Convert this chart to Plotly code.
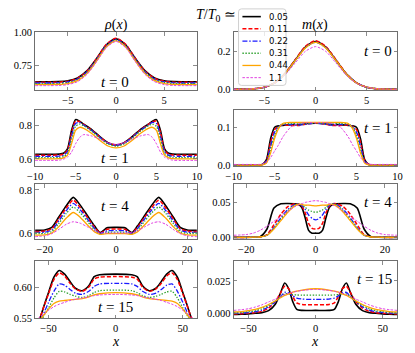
import plotly.graph_objects as go

# ---------------- data ----------------
TEMPS = ["0.05", "0.11", "0.22", "0.31", "0.44", "1.1"]

# rho(x), t = 0
X_RHO_T0 = [-8.4, -7, -6, -5, -4, -3, -2, -1, 0, 1, 2, 3, 4, 5, 6, 7, 8.4]
RHO_T0 = [
    [0.625, 0.625, 0.626, 0.632, 0.654, 0.709, 0.802, 0.905, 0.950, 0.905, 0.802, 0.709, 0.654, 0.632, 0.626, 0.625, 0.625],
    [0.620, 0.620, 0.621, 0.628, 0.650, 0.706, 0.803, 0.908, 0.955, 0.908, 0.803, 0.706, 0.650, 0.628, 0.621, 0.620, 0.620],
    [0.615, 0.615, 0.616, 0.623, 0.644, 0.700, 0.795, 0.899, 0.945, 0.899, 0.795, 0.700, 0.644, 0.623, 0.616, 0.615, 0.615],
    [0.610, 0.610, 0.611, 0.618, 0.639, 0.695, 0.790, 0.894, 0.940, 0.894, 0.790, 0.695, 0.639, 0.618, 0.611, 0.610, 0.610],
    [0.603, 0.603, 0.604, 0.611, 0.633, 0.688, 0.784, 0.889, 0.935, 0.889, 0.784, 0.688, 0.633, 0.611, 0.604, 0.603, 0.603],
    [0.595, 0.595, 0.596, 0.603, 0.625, 0.681, 0.778, 0.883, 0.930, 0.883, 0.778, 0.681, 0.625, 0.603, 0.596, 0.595, 0.595],
]

# m(x), t = 0
X_M_T0 = [-8, -7, -6, -5, -4, -3, -2, -1, 0, 1, 2, 3, 4, 5, 6, 7, 8]
M_T0 = [
    [0.0, 0.001, 0.003, 0.011, 0.034, 0.081, 0.152, 0.221, 0.250, 0.221, 0.152, 0.081, 0.034, 0.011, 0.003, 0.001, 0.0],
    [0.0, 0.001, 0.003, 0.011, 0.034, 0.083, 0.155, 0.225, 0.255, 0.225, 0.155, 0.083, 0.034, 0.011, 0.003, 0.001, 0.0],
    [0.0, 0.001, 0.003, 0.011, 0.034, 0.081, 0.151, 0.219, 0.248, 0.219, 0.151, 0.081, 0.034, 0.011, 0.003, 0.001, 0.0],
    [0.0, 0.001, 0.003, 0.011, 0.033, 0.080, 0.150, 0.218, 0.247, 0.218, 0.150, 0.080, 0.033, 0.011, 0.003, 0.001, 0.0],
    [0.0, 0.001, 0.003, 0.011, 0.033, 0.080, 0.150, 0.217, 0.246, 0.217, 0.150, 0.080, 0.033, 0.011, 0.003, 0.001, 0.0],
    [0.0, 0.001, 0.003, 0.011, 0.032, 0.075, 0.138, 0.199, 0.224, 0.199, 0.138, 0.075, 0.032, 0.011, 0.003, 0.001, 0.0],
]

# rho(x), t = 1
X_T1 = [-10, -8, -7, -6.5, -6, -5.5, -5, -4.5, -4, -3, -2, -1, 0, 1, 2, 3, 4, 4.5, 5, 5.5, 6, 6.5, 7, 8, 10]
RHO_T1 = [
    [0.627, 0.627, 0.628, 0.633, 0.660, 0.770, 0.835, 0.825, 0.808, 0.775, 0.733, 0.697, 0.683, 0.697, 0.733, 0.775, 0.808, 0.825, 0.835, 0.770, 0.660, 0.633, 0.628, 0.627, 0.627],
    [0.622, 0.622, 0.623, 0.628, 0.652, 0.755, 0.826, 0.822, 0.806, 0.772, 0.731, 0.696, 0.682, 0.696, 0.731, 0.772, 0.806, 0.822, 0.826, 0.755, 0.652, 0.628, 0.623, 0.622, 0.622],
    [0.615, 0.615, 0.616, 0.621, 0.643, 0.735, 0.812, 0.818, 0.803, 0.770, 0.729, 0.694, 0.680, 0.694, 0.729, 0.770, 0.803, 0.818, 0.812, 0.735, 0.643, 0.621, 0.616, 0.615, 0.615],
    [0.607, 0.607, 0.608, 0.613, 0.633, 0.715, 0.795, 0.808, 0.798, 0.765, 0.724, 0.689, 0.675, 0.689, 0.724, 0.765, 0.798, 0.808, 0.795, 0.715, 0.633, 0.613, 0.608, 0.607, 0.607],
    [0.600, 0.600, 0.601, 0.606, 0.622, 0.690, 0.770, 0.789, 0.783, 0.752, 0.711, 0.677, 0.665, 0.677, 0.711, 0.752, 0.783, 0.789, 0.770, 0.690, 0.622, 0.606, 0.601, 0.600, 0.600],
    [0.590, 0.590, 0.592, 0.598, 0.610, 0.640, 0.690, 0.728, 0.745, 0.737, 0.718, 0.697, 0.687, 0.697, 0.718, 0.737, 0.745, 0.728, 0.690, 0.640, 0.610, 0.598, 0.592, 0.590, 0.590],
]

# m(x), t = 1
M_T1 = [
    [0.0, 0.0, 0.0005, 0.002, 0.015, 0.070, 0.101, 0.105, 0.106, 0.108, 0.108, 0.111, 0.112, 0.111, 0.108, 0.108, 0.106, 0.105, 0.101, 0.070, 0.015, 0.002, 0.0005, 0.0, 0.0],
    [0.0, 0.0, 0.0005, 0.002, 0.012, 0.060, 0.095, 0.104, 0.107, 0.106, 0.106, 0.110, 0.112, 0.110, 0.106, 0.106, 0.107, 0.104, 0.095, 0.060, 0.012, 0.002, 0.0005, 0.0, 0.0],
    [0.0, 0.0, 0.0005, 0.002, 0.010, 0.050, 0.088, 0.103, 0.108, 0.108, 0.107, 0.110, 0.112, 0.110, 0.107, 0.108, 0.108, 0.103, 0.088, 0.050, 0.010, 0.002, 0.0005, 0.0, 0.0],
    [0.0, 0.0, 0.0005, 0.001, 0.008, 0.040, 0.080, 0.102, 0.110, 0.111, 0.110, 0.111, 0.112, 0.111, 0.110, 0.111, 0.110, 0.102, 0.080, 0.040, 0.008, 0.001, 0.0005, 0.0, 0.0],
    [0.0, 0.0, 0.0005, 0.001, 0.006, 0.032, 0.072, 0.098, 0.111, 0.114, 0.114, 0.114, 0.114, 0.114, 0.114, 0.114, 0.111, 0.098, 0.072, 0.032, 0.006, 0.001, 0.0005, 0.0, 0.0],
    [0.002, 0.002, 0.002, 0.003, 0.008, 0.020, 0.038, 0.055, 0.075, 0.102, 0.111, 0.113, 0.113, 0.113, 0.111, 0.102, 0.075, 0.055, 0.038, 0.020, 0.008, 0.003, 0.002, 0.002, 0.002],
]

# rho(x), t = 4
X_RHO_T4 = [-22.7, -20, -18, -16, -14, -12, -10, -8, -6, -4.5, -3.5, -2.5, 0, 2.5, 3.5, 4.5, 6, 8, 10, 12, 14, 16, 18, 20, 22.7]
RHO_T4 = [
    [0.612, 0.614, 0.626, 0.675, 0.725, 0.765, 0.728, 0.680, 0.632, 0.602, 0.612, 0.624, 0.626, 0.624, 0.612, 0.602, 0.632, 0.680, 0.728, 0.765, 0.725, 0.675, 0.626, 0.614, 0.612],
    [0.607, 0.609, 0.620, 0.667, 0.715, 0.752, 0.717, 0.672, 0.626, 0.600, 0.607, 0.617, 0.618, 0.617, 0.607, 0.600, 0.626, 0.672, 0.717, 0.752, 0.715, 0.667, 0.620, 0.609, 0.607],
    [0.603, 0.604, 0.614, 0.657, 0.703, 0.737, 0.706, 0.664, 0.620, 0.598, 0.603, 0.610, 0.611, 0.610, 0.603, 0.598, 0.620, 0.664, 0.706, 0.737, 0.703, 0.657, 0.614, 0.604, 0.603],
    [0.597, 0.598, 0.607, 0.645, 0.690, 0.720, 0.693, 0.654, 0.613, 0.596, 0.598, 0.603, 0.604, 0.603, 0.598, 0.596, 0.613, 0.654, 0.693, 0.720, 0.690, 0.645, 0.607, 0.598, 0.597],
    [0.590, 0.591, 0.600, 0.630, 0.668, 0.695, 0.672, 0.637, 0.605, 0.594, 0.595, 0.597, 0.597, 0.597, 0.595, 0.594, 0.605, 0.637, 0.672, 0.695, 0.668, 0.630, 0.600, 0.591, 0.590],
    [0.583, 0.587, 0.597, 0.617, 0.640, 0.652, 0.645, 0.628, 0.610, 0.601, 0.600, 0.600, 0.600, 0.600, 0.600, 0.601, 0.610, 0.628, 0.645, 0.652, 0.640, 0.617, 0.597, 0.587, 0.583],
]

# m(x), t = 4
X_M_T4 = [-23.6, -20, -18, -16, -14, -12, -10, -8, -6, -5, -4, -3, -2, -1, 0, 1, 2, 3, 4, 5, 6, 8, 10, 12, 14, 16, 18, 20, 23.6]
M_T4 = [
    [0.0, 0.0, 0.0002, 0.001, 0.012, 0.042, 0.048, 0.0485, 0.048, 0.047, 0.043, 0.028, 0.010, 0.006, 0.006, 0.006, 0.010, 0.028, 0.043, 0.047, 0.048, 0.0485, 0.048, 0.042, 0.012, 0.001, 0.0002, 0.0, 0.0],
    [0.0, 0.0, 0.0002, 0.0005, 0.004, 0.018, 0.033, 0.044, 0.048, 0.048, 0.045, 0.035, 0.020, 0.013, 0.012, 0.013, 0.020, 0.035, 0.045, 0.048, 0.048, 0.044, 0.033, 0.018, 0.004, 0.0005, 0.0002, 0.0, 0.0],
    [0.0, 0.0, 0.0002, 0.0005, 0.003, 0.014, 0.028, 0.040, 0.047, 0.048, 0.046, 0.040, 0.032, 0.027, 0.025, 0.027, 0.032, 0.040, 0.046, 0.048, 0.047, 0.040, 0.028, 0.014, 0.003, 0.0005, 0.0002, 0.0, 0.0],
    [0.0, 0.0, 0.0002, 0.0005, 0.003, 0.013, 0.026, 0.038, 0.046, 0.048, 0.047, 0.043, 0.039, 0.037, 0.036, 0.037, 0.039, 0.043, 0.047, 0.048, 0.046, 0.038, 0.026, 0.013, 0.003, 0.0005, 0.0002, 0.0, 0.0],
    [0.0, 0.0, 0.0002, 0.0005, 0.003, 0.012, 0.024, 0.036, 0.045, 0.047, 0.047, 0.046, 0.046, 0.0455, 0.045, 0.0455, 0.046, 0.046, 0.047, 0.047, 0.045, 0.036, 0.024, 0.012, 0.003, 0.0005, 0.0002, 0.0, 0.0],
    [0.003, 0.004, 0.006, 0.010, 0.016, 0.023, 0.030, 0.037, 0.044, 0.046, 0.048, 0.050, 0.051, 0.052, 0.0525, 0.052, 0.051, 0.050, 0.048, 0.046, 0.044, 0.037, 0.030, 0.023, 0.016, 0.010, 0.006, 0.004, 0.003],
]

# rho(x), t = 15
X_RHO_T15 = [-60, -56.5, -53, -50, -46, -42, -38, -34, -30, -25, -20, -16, -12, 0, 12, 16, 20, 25, 30, 34, 38, 42, 46, 50, 53, 56.5, 60]
RHO_T15 = [
    [0.535, 0.550, 0.573, 0.592, 0.617, 0.628, 0.622, 0.610, 0.599, 0.595, 0.603, 0.618, 0.621, 0.622, 0.621, 0.618, 0.603, 0.595, 0.599, 0.610, 0.622, 0.628, 0.617, 0.592, 0.573, 0.550, 0.535],
    [0.537, 0.551, 0.572, 0.590, 0.613, 0.624, 0.619, 0.607, 0.598, 0.594, 0.601, 0.614, 0.617, 0.618, 0.617, 0.614, 0.601, 0.594, 0.598, 0.607, 0.619, 0.624, 0.613, 0.590, 0.572, 0.551, 0.537],
    [0.535, 0.545, 0.561, 0.576, 0.594, 0.606, 0.604, 0.597, 0.591, 0.589, 0.594, 0.602, 0.606, 0.607, 0.606, 0.602, 0.594, 0.589, 0.591, 0.597, 0.604, 0.606, 0.594, 0.576, 0.561, 0.545, 0.535],
    [0.530, 0.541, 0.556, 0.567, 0.583, 0.594, 0.593, 0.589, 0.586, 0.584, 0.587, 0.592, 0.595, 0.596, 0.595, 0.592, 0.587, 0.584, 0.586, 0.589, 0.593, 0.594, 0.583, 0.567, 0.556, 0.541, 0.530],
    [0.538, 0.547, 0.557, 0.565, 0.574, 0.578, 0.579, 0.580, 0.581, 0.582, 0.585, 0.588, 0.590, 0.592, 0.590, 0.588, 0.585, 0.582, 0.581, 0.580, 0.579, 0.578, 0.574, 0.565, 0.557, 0.547, 0.538],
    [0.545, 0.552, 0.558, 0.563, 0.569, 0.573, 0.576, 0.579, 0.581, 0.583, 0.585, 0.587, 0.588, 0.589, 0.588, 0.587, 0.585, 0.583, 0.581, 0.579, 0.576, 0.573, 0.569, 0.563, 0.558, 0.552, 0.545],
]

# m(x), t = 15
X_M_T15 = [-61, -55, -50, -45, -40, -35, -30, -26, -23, -20, -17, -14, -10, 0, 10, 14, 17, 20, 23, 26, 30, 35, 40, 45, 50, 55, 61]
M_T15 = [
    [-0.001, -0.0008, -0.0005, 0.0, 0.0005, 0.002, 0.007, 0.016, 0.0235, 0.019, 0.009, 0.003, 0.0022, 0.0022, 0.0022, 0.003, 0.009, 0.019, 0.0235, 0.016, 0.007, 0.002, 0.0005, 0.0, -0.0005, -0.0008, -0.001],
    [-0.0005, -0.0003, 0.0, 0.0005, 0.0015, 0.004, 0.009, 0.016, 0.021, 0.019, 0.013, 0.008, 0.0068, 0.0065, 0.0068, 0.008, 0.013, 0.019, 0.021, 0.016, 0.009, 0.004, 0.0015, 0.0005, 0.0, -0.0003, -0.0005],
    [0.0, 0.0002, 0.0006, 0.0012, 0.0025, 0.005, 0.009, 0.013, 0.0162, 0.0158, 0.0135, 0.0118, 0.011, 0.0107, 0.011, 0.0118, 0.0135, 0.0158, 0.0162, 0.013, 0.009, 0.005, 0.0025, 0.0012, 0.0006, 0.0002, 0.0],
    [0.0005, 0.0007, 0.0012, 0.002, 0.0035, 0.006, 0.0095, 0.013, 0.015, 0.0152, 0.0145, 0.0142, 0.014, 0.014, 0.014, 0.0142, 0.0145, 0.0152, 0.015, 0.013, 0.0095, 0.006, 0.0035, 0.002, 0.0012, 0.0007, 0.0005],
    [0.001, 0.0013, 0.002, 0.003, 0.0045, 0.0068, 0.0095, 0.012, 0.0138, 0.015, 0.0163, 0.0172, 0.018, 0.019, 0.018, 0.0172, 0.0163, 0.015, 0.0138, 0.012, 0.0095, 0.0068, 0.0045, 0.003, 0.002, 0.0013, 0.001],
    [0.0022, 0.0028, 0.0035, 0.0048, 0.0065, 0.0088, 0.011, 0.0132, 0.0145, 0.0155, 0.0163, 0.017, 0.0177, 0.0185, 0.0177, 0.017, 0.0163, 0.0155, 0.0145, 0.0132, 0.011, 0.0088, 0.0065, 0.0048, 0.0035, 0.0028, 0.0022],
]

# ---------------- styles ----------------
COLORS = ["#000000", "#ff0000", "#1a1aff", "#2ca02c", "#ffa500", "#e040e0"]
DASHES = ["solid", "4px,2px", "5px,1.8px,1.5px,1.8px", "1.4px,1.6px", "solid", "2.5px,1.5px"]
WIDTHS = [1.6, 1.5, 1.3, 1.3, 1.3, 1.0]

W, H = 415, 353
SERIF = "Liberation Serif"
AXC = "#6f6f6f"


def fx(p):
    return p / W


def fy(p):
    return 1 - p / H


COLS = [(28, 195), (233, 402)]
ROWS = [(28, 88), (108, 166.5), (185, 242), (264.5, 323.5)]

panels = [
    # (x, ys, xrange, yrange, xticks, yticks, yfmt, label, col, row)
    (X_RHO_T0, RHO_T0, [-8.4, 8.4], [0.56, 1.0008], [-5, 0, 5], [0.75, 1.0], ".2f", "0", 0, 0),
    (X_M_T0, M_T0, [-8, 8], [-0.005, 0.30], [-5, 0, 5], [0.0, 0.2], ".1f", "0", 1, 0),
    (X_T1, RHO_T1, [-10, 10], [0.555, 0.895], [-10, -5, 0, 5, 10], [0.6, 0.8], ".1f", "1", 0, 1),
    (X_T1, M_T1, [-10, 10], [-0.003, 0.148], [-10, -5, 0, 5, 10], [0.0, 0.1], ".1f", "1", 1, 1),
    (X_RHO_T4, RHO_T4, [-22.7, 22.7], [0.57, 0.826], [-20, 0, 20], [0.6, 0.8], ".1f", "4", 0, 2),
    (X_M_T4, M_T4, [-23.6, 23.6], [-0.003, 0.076], [-20, 0, 20], [0.0, 0.05], ".2f", "4", 1, 2),
    (X_RHO_T15, RHO_T15, [-60, 60.5], [0.5498, 0.643], [-50, 0, 50], [0.55, 0.60], ".2f", "15", 0, 3),
    (X_M_T15, M_T15, [-61, 61], [-0.004, 0.0403], [-50, 0, 50], [0.0, 0.025], ".3f", "15", 1, 3),
]

fig = go.Figure()
layout = dict(
    width=W, height=H, margin=dict(l=0, r=0, t=0, b=0),
    paper_bgcolor="white", plot_bgcolor="white", showlegend=False,
    font=dict(family=SERIF, size=11, color="black"),
)
annotations = []
shapes = []

for i, (xs, ys, xr, yr, xt, yt, yfmt, lab, col, row) in enumerate(panels):
    n = i + 1
    xa = "x" if n == 1 else f"x{n}"
    ya = "y" if n == 1 else f"y{n}"
    for k in range(6):
        fig.add_trace(go.Scatter(
            x=xs, y=ys[k], xaxis=xa, yaxis=ya, mode="lines",
            line=dict(color=COLORS[k], width=WIDTHS[k], dash=DASHES[k],
                      shape="spline", smoothing=0.7),
            name=TEMPS[k], hoverinfo="skip",
        ))
    c0, c1 = COLS[col]
    r0, r1 = ROWS[row]
    common = dict(showline=True, linecolor=AXC, linewidth=1, mirror="ticks",
                  ticks="inside", ticklen=3.5, tickcolor=AXC, tickwidth=0.8,
                  showgrid=False, zeroline=False,
                  tickfont=dict(family=SERIF, size=10.5, color="black"))
    layout["xaxis" if n == 1 else f"xaxis{n}"] = dict(
        domain=[fx(c0), fx(c1)], range=xr, anchor=ya,
        tickmode="array", tickvals=xt, **common)
    layout["yaxis" if n == 1 else f"yaxis{n}"] = dict(
        domain=[fy(r1), fy(r0)], range=yr, anchor=xa,
        tickmode="array", tickvals=yt, tickformat=yfmt, **common)
    # t = ... labels
    if col == 0:
        ax_, anc = (c0 + c1) / 2 - 1, "center"
        ay_ = {0: 79, 1: 158, 2: 207, 3: 312}[row]
    else:
        ax_, anc = 398, "right"
        ay_ = {0: 47, 1: 127, 2: 203, 3: 283}[row]
    annotations.append(dict(
        x=fx(ax_), y=fy(ay_), xref="paper", yref="paper", xanchor=anc, yanchor="middle",
        text=f"<i>t</i> = {lab}", showarrow=False, font=dict(family=SERIF, size=15, color="black")))

# column titles and global labels
annotations += [
    dict(x=fx(111), y=fy(21), xref="paper", yref="paper", text="<i>ρ</i>(<i>x</i>)",
         showarrow=False, font=dict(family=SERIF, size=14), xanchor="center", yanchor="middle"),
    dict(x=fx(317), y=fy(21), xref="paper", yref="paper", text="<i>m</i>(<i>x</i>)",
         showarrow=False, font=dict(family=SERIF, size=14), xanchor="center", yanchor="middle"),
    dict(x=fx(237), y=fy(11), xref="paper", yref="paper", text="<i>T</i>/<i>T</i><sub>0</sub> ≃",
         showarrow=False, font=dict(family=SERIF, size=14), xanchor="right", yanchor="middle"),
    dict(x=fx(111), y=fy(347), xref="paper", yref="paper", text="<i>x</i>",
         showarrow=False, font=dict(family=SERIF, size=14), xanchor="center", yanchor="middle"),
    dict(x=fx(317), y=fy(347), xref="paper", yref="paper", text="<i>x</i>",
         showarrow=False, font=dict(family=SERIF, size=14), xanchor="center", yanchor="middle"),
]

# legend box (matplotlib-like, semi-transparent)
bx0, by0, bx1, by1, rr = 238, 4, 287, 83, 3
path = (f"M {fx(bx0+rr)},{fy(by0)} L {fx(bx1-rr)},{fy(by0)} Q {fx(bx1)},{fy(by0)} {fx(bx1)},{fy(by0+rr)} "
        f"L {fx(bx1)},{fy(by1-rr)} Q {fx(bx1)},{fy(by1)} {fx(bx1-rr)},{fy(by1)} "
        f"L {fx(bx0+rr)},{fy(by1)} Q {fx(bx0)},{fy(by1)} {fx(bx0)},{fy(by1-rr)} "
        f"L {fx(bx0)},{fy(by0+rr)} Q {fx(bx0)},{fy(by0)} {fx(bx0+rr)},{fy(by0)} Z")
shapes.append(dict(type="path", path=path, xref="paper", yref="paper", layer="above",
                   fillcolor="rgba(255,255,255,0.8)", line=dict(color="#d0d0d0", width=1)))
for k in range(6):
    yy = 12 + k * 12.6
    shapes.append(dict(type="line", xref="paper", yref="paper", layer="above",
                       x0=fx(242), x1=fx(261), y0=fy(yy), y1=fy(yy),
                       line=dict(color=COLORS[k], width=WIDTHS[k], dash=DASHES[k])))
    annotations.append(dict(x=fx(267), y=fy(yy), xref="paper", yref="paper", text=TEMPS[k],
                            showarrow=False, xanchor="left", yanchor="middle",
                            font=dict(family="DejaVu Sans", size=8.5, color="black")))

layout["annotations"] = annotations
layout["shapes"] = shapes
fig.update_layout(**layout)
fig.write_html(
    "out.html",
    config={"displayModeBar": False, "staticPlot": True},
    post_script="document.body.style.margin='0';document.body.style.padding='0';"
                "document.body.style.overflow='hidden';",
)
